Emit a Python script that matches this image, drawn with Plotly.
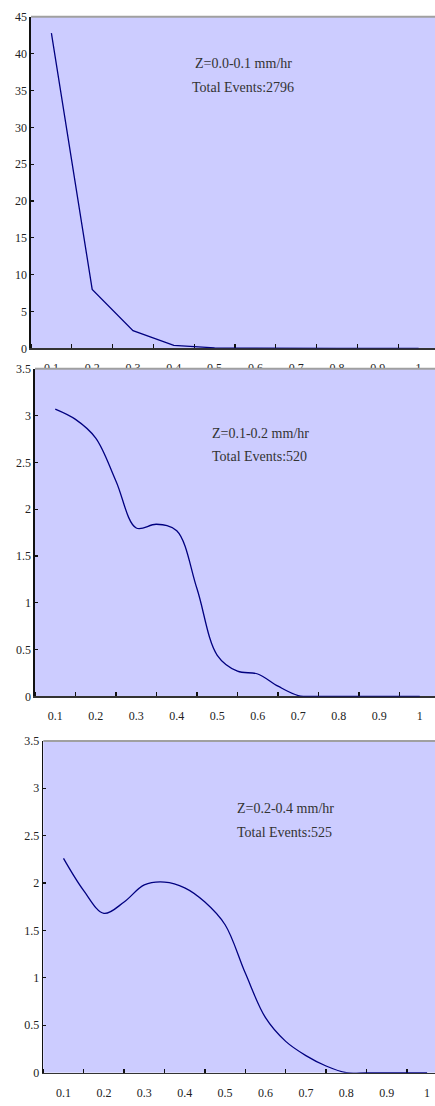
import plotly.graph_objects as go

# ---------------- data ----------------
x_labels = ["0.1", "0.2", "0.3", "0.4", "0.5", "0.6", "0.7", "0.8", "0.9", "1"]
x_label_vals = [0.1, 0.2, 0.3, 0.4, 0.5, 0.6, 0.7, 0.8, 0.9, 1.0]

# panel 1: Z = 0.0-0.1 mm/hr (straight segments)
x1 = [0.1, 0.2, 0.3, 0.4, 0.5, 0.6, 0.7, 0.8, 0.9, 1.0]
y1 = [42.8, 8.0, 2.4, 0.4, 0.05, 0.0, 0.0, 0.0, 0.0, 0.0]

# panel 2 / 3 (smoothed)
x23 = [0.1, 0.15, 0.2, 0.25, 0.3, 0.35, 0.4, 0.45, 0.5, 0.55,
       0.6, 0.65, 0.7, 0.75, 0.8, 0.85, 0.9, 0.95, 1.0]
y2 = [3.07, 2.96, 2.76, 2.30, 1.80, 1.84, 1.77, 1.15, 0.44, 0.27,
      0.24, 0.11, 0.01, 0.0, 0.0, 0.0, 0.0, 0.0, 0.0]
y3 = [2.26, 1.92, 1.68, 1.80, 1.98, 2.01, 1.95, 1.80, 1.56, 1.05,
      0.58, 0.33, 0.18, 0.07, 0.0, 0.0, 0.0, 0.0, 0.0]

labels_line1 = ["Z=0.0-0.1 mm/hr", "Z=0.1-0.2 mm/hr", "Z=0.2-0.4 mm/hr"]
labels_line2 = ["Total Events:2796", "Total Events:520", "Total Events:525"]

y_max = [45, 3.5, 3.5]
y_dtick = [5, 0.5, 0.5]

# ---------------- layout helpers ----------------
W, H = 435, 1106
FONT = "Liberation Serif"
BG = "#CCCCFF"
LINE = "#000080"


def px_x(x):
    return x / W


def px_y(y):
    return 1 - y / H


# pixel geometry of the three panels
panels = [
    dict(left=31.0, top=10.0, bottom=345.7, step=40.8),
    dict(left=35.0, top=366.5, bottom=698.3, step=40.5),
    dict(left=43.3, top=743.3, bottom=1079.3, step=40.4),
]

fig = go.Figure()

series = [(x1, y1, "linear"), (x23, y2, "spline"), (x23, y3, "spline")]
for i, (xs, ys, shape) in enumerate(series):
    ax = "" if i == 0 else str(i + 1)
    fig.add_trace(go.Scatter(
        x=xs, y=ys, mode="lines",
        line=dict(color=LINE, width=1.3, shape=shape, smoothing=1.0),
        xaxis="x" + ax, yaxis="y" + ax, showlegend=False, hoverinfo="skip",
    ))

layout = dict(
    width=W, height=H,
    margin=dict(l=0, r=0, t=0, b=0),
    paper_bgcolor="white",
    plot_bgcolor=BG,
    font=dict(family=FONT, size=12, color="#222222"),
    showlegend=False,
)

shapes = []
annotations = []
for i, p in enumerate(panels):
    ax = "" if i == 0 else str(i + 1)
    x_end = 0.05 + (W - p["left"]) / p["step"] * 0.1
    layout["xaxis" + ax] = dict(
        domain=[px_x(p["left"]), 1.0],
        anchor="y" + ax,
        range=[0.05, x_end],
        tickmode="array", tickvals=x_label_vals, ticktext=x_labels,
        ticks="", showgrid=False, zeroline=False,
        showline=True, linecolor="#333333", linewidth=1.6,
        ticklabelstandoff=8,
        tickfont=dict(family=FONT, size=12, color="#222222"),
        minor=dict(tick0=0.05, dtick=0.1, ticks="inside", ticklen=4,
                   tickwidth=1.3, tickcolor="#111111", showgrid=False),
        layer="below traces",
        fixedrange=True,
    )
    layout["yaxis" + ax] = dict(
        domain=[px_y(p["bottom"]), px_y(p["top"])],
        anchor="x" + ax,
        range=[0, y_max[i]], dtick=y_dtick[i], tick0=0,
        ticks="inside", ticklen=3, tickwidth=1.2, tickcolor="#111111",
        showgrid=False, zeroline=False,
        showline=True, linecolor="#111111", linewidth=1.6,
        tickfont=dict(family=FONT, size=12, color="#222222"),
        fixedrange=True,
    )

# cover strip: panel 2 hides the lower half of panel 1's x labels
p2 = panels[1]
shapes.append(dict(type="rect", xref="paper", yref="paper", layer="above",
                   x0=px_x(p2["left"] + 1), x1=1.0,
                   y0=px_y(p2["top"] + 12), y1=px_y(p2["top"]),
                   fillcolor=BG, line=dict(width=0)))
# grey top borders
for p in panels:
    shapes.append(dict(type="line", xref="paper", yref="paper", layer="above",
                       x0=px_x(p["left"]), x1=1.0,
                       y0=px_y(p["top"]), y1=px_y(p["top"]),
                       line=dict(color="#A0A0A0", width=2)))

# text annotations (pixel positions)
text_pos = [
    dict(x=243, y1=57, y2=82, anchor="center"),
    dict(x=210, y1=432, y2=455, anchor="left"),
    dict(x=235, y1=812, y2=836, anchor="left"),
]
for i, t in enumerate(text_pos):
    for txt, yy in ((labels_line1[i], t["y1"]), (labels_line2[i], t["y2"])):
        annotations.append(dict(
            text=txt, xref="paper", yref="paper",
            x=px_x(t["x"]), y=px_y(yy), xanchor=t["anchor"], yanchor="middle",
            showarrow=False, font=dict(family=FONT, size=14, color="#333333"),
        ))

layout["shapes"] = shapes
layout["annotations"] = annotations
fig.update_layout(**layout)

fig.write_html(
    "out.html",
    config={"displayModeBar": False, "staticPlot": True},
    post_script="document.body.style.margin='0';document.body.style.overflow='hidden';",
)
